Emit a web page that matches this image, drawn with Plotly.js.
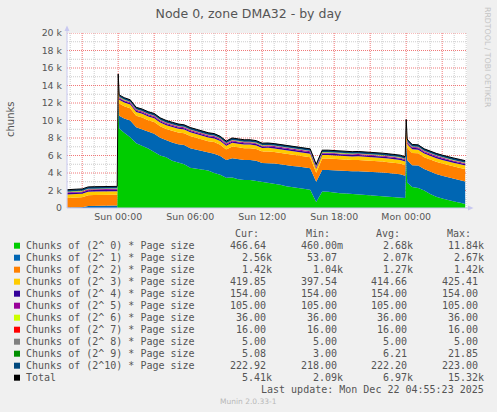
<!DOCTYPE html>
<html><head><meta charset="utf-8">
<script src="https://cdn.plot.ly/plotly-3.0.1.min.js"></script>
<style>html,body{margin:0;padding:0;background:#F0F0F0;overflow:hidden}</style>
</head><body><div id="chart" style="width:497px;height:412px"></div>
<script>
// ---------- DATA ----------
const times = [
'2025-12-20 19:45','2025-12-20 20:00','2025-12-20 20:30','2025-12-20 21:00','2025-12-20 21:30','2025-12-20 22:00','2025-12-20 22:30','2025-12-20 23:00','2025-12-20 23:30','2025-12-20 23:55',
'2025-12-21 00:00','2025-12-21 00:05','2025-12-21 00:30','2025-12-21 01:00','2025-12-21 01:30','2025-12-21 02:00','2025-12-21 02:30','2025-12-21 03:00','2025-12-21 03:30','2025-12-21 04:00',
'2025-12-21 04:30','2025-12-21 05:00','2025-12-21 05:30','2025-12-21 06:00','2025-12-21 06:30','2025-12-21 07:00','2025-12-21 07:30','2025-12-21 08:00','2025-12-21 08:30','2025-12-21 09:00',
'2025-12-21 09:30','2025-12-21 10:00','2025-12-21 10:30','2025-12-21 11:00','2025-12-21 11:30','2025-12-21 12:00','2025-12-21 12:30','2025-12-21 13:00','2025-12-21 13:30','2025-12-21 14:00',
'2025-12-21 14:30','2025-12-21 15:00','2025-12-21 15:30','2025-12-21 16:00','2025-12-21 16:30','2025-12-21 17:00','2025-12-21 17:30','2025-12-21 18:00','2025-12-21 18:30','2025-12-21 19:00',
'2025-12-21 19:30','2025-12-21 20:00','2025-12-21 20:30','2025-12-21 21:00','2025-12-21 21:30','2025-12-21 22:00','2025-12-21 22:30','2025-12-21 23:00','2025-12-21 23:30','2025-12-21 23:55',
'2025-12-22 00:00','2025-12-22 00:05','2025-12-22 00:10','2025-12-22 00:30','2025-12-22 01:00','2025-12-22 01:30','2025-12-22 02:00','2025-12-22 02:30','2025-12-22 03:00','2025-12-22 03:30',
'2025-12-22 04:00','2025-12-22 04:30','2025-12-22 04:55'];

const order0 = [0.46,0.5,0.6,0.8,1.2,1.5,2,2,2.5,3,
11840,9100,8600,8100,7400,7100,6800,6400,6000,5800,
5400,5200,5000,4600,4500,4400,4300,4000,3800,3450,
3500,3300,3200,3200,3100,3000,2900,2800,2650,2500,
2400,2300,2200,2100,700,1900,1850,1750,1700,1650,
1600,1600,1550,1500,1450,1400,1350,1300,1250,1150,
5500,2900,2800,2400,2300,2000,1600,1300,1100,900,
750,600,466.64];
const order1 = [53.07,60,58,75,240,250,245,260,255,270,
1075,1450,1640,1900,1840,1890,1940,2090,2040,1940,
2090,2100,2190,2240,2190,2100,2040,2200,2140,2040,
2190,2290,2290,2300,2300,2150,2250,2300,2350,2380,
2400,2450,2450,2450,2300,2450,2500,2550,2550,2550,
2600,2600,2620,2670,2650,2650,2640,2650,2600,2550,
2300,2600,2550,2500,2550,2450,2550,2600,2600,2580,
2580,2570,2560];
const order2 = [1100,1130,1150,1160,1220,1230,1240,1230,1250,1240,
1420,1400,1400,1400,1300,1350,1300,1350,1300,1300,
1350,1340,1350,1400,1350,1300,1300,1340,1300,1200,
1350,1350,1350,1340,1340,1300,1320,1300,1300,1280,
1250,1250,1220,1250,1040,1300,1300,1300,1300,1300,
1280,1300,1300,1280,1260,1260,1250,1250,1230,1200,
1350,1420,1400,1400,1400,1350,1350,1380,1380,1400,
1400,1410,1420];
const order3 = [397.54,400,402,405,410,410,412,412,414,414,
425,424,423,422,421,421,420,420,420,419,
419,418,418,418,417,417,417,416,416,416,
416,415,415,415,415,415,414,414,414,414,
414,414,414,414,410,414,414,414,414,414,
414,414,414,414,414,414,414,414,414,413,
418,420,420,420,420,420,420,420,420,420,
420,420,419.85];
const order4 = [154,154,154,154,154,154,154,154,154,154,
154,154,154,154,154,154,154,154,154,154,154,154,154,154,154,154,154,154,154,154,
154,154,154,154,154,154,154,154,154,154,154,154,154,154,154,154,154,154,154,154,
154,154,154,154,154,154,154,154,154,154,154,154,154,154,154,154,154,154,154,154,
154,154,154];
const order5 = [105,105,105,105,105,105,105,105,105,105,
105,105,105,105,105,105,105,105,105,105,105,105,105,105,105,105,105,105,105,105,
105,105,105,105,105,105,105,105,105,105,105,105,105,105,105,105,105,105,105,105,
105,105,105,105,105,105,105,105,105,105,105,105,105,105,105,105,105,105,105,105,
105,105,105];
const order6 = [36,36,36,36,36,36,36,36,36,36,
36,36,36,36,36,36,36,36,36,36,36,36,36,36,36,36,36,36,36,36,
36,36,36,36,36,36,36,36,36,36,36,36,36,36,36,36,36,36,36,36,
36,36,36,36,36,36,36,36,36,36,36,36,36,36,36,36,36,36,36,36,
36,36,36];
const order7 = [16,16,16,16,16,16,16,16,16,16,
16,16,16,16,16,16,16,16,16,16,16,16,16,16,16,16,16,16,16,16,
16,16,16,16,16,16,16,16,16,16,16,16,16,16,16,16,16,16,16,16,
16,16,16,16,16,16,16,16,16,16,16,16,16,16,16,16,16,16,16,16,
16,16,16];
const order8 = [5,5,5,5,5,5,5,5,5,5,
5,5,5,5,5,5,5,5,5,5,5,5,5,5,5,5,5,5,5,5,
5,5,5,5,5,5,5,5,5,5,5,5,5,5,5,5,5,5,5,5,
5,5,5,5,5,5,5,5,5,5,5,5,5,5,5,5,5,5,5,5,
5,5,5];
const order9 = [3,3,4,4,5,5,5,5,5,5,
21.85,12,8,7,7,6,6,6,6,6,6,6,6,6,6,6,6,6,6,6,
6,6,6,6,6,6,6,6,6,6,6,6,6,6,6,6,6,6,6,6,
6,6,6,6,6,6,6,6,6,6,10,8,7,6,6,6,5,5,5,5,
5,5,5.08];
const order10 = [218,219,220,221,222,222,222,222,222,222,
223,223,223,223,223,223,223,223,223,223,223,223,223,223,223,223,223,223,223,223,
223,223,223,223,223,223,223,222,222,222,222,222,222,222,222,222,222,222,223,223,
223,223,223,223,223,223,223,223,223,223,223,223,223,223,223,223,223,223,223,223,
223,223,222.92];

const legendLabels = ['Chunks of (2^ 0) * Page size','Chunks of (2^ 1) * Page size','Chunks of (2^ 2) * Page size',
'Chunks of (2^ 3) * Page size','Chunks of (2^ 4) * Page size','Chunks of (2^ 5) * Page size',
'Chunks of (2^ 6) * Page size','Chunks of (2^ 7) * Page size','Chunks of (2^ 8) * Page size',
'Chunks of (2^ 9) * Page size','Chunks of (2^10) * Page size','Total'];
const curVals = ['466.64','2.56k','1.42k','419.85','154.00','105.00','36.00','16.00','5.00','5.08','222.92','5.41k'];
const minVals = ['460.00m','53.07','1.04k','397.54','154.00','105.00','36.00','16.00','5.00','3.00','218.00','2.09k'];
const avgVals = ['2.68k','2.07k','1.27k','414.66','154.00','105.00','36.00','16.00','5.00','6.21','222.20','6.97k'];
const maxVals = ['11.84k','2.67k','1.42k','425.41','154.00','105.00','36.00','16.00','5.00','21.85','223.00','15.32k'];
const columnHeads = ['Cur:','Min:','Avg:','Max:'];

const xTickVals = ['2025-12-20 21:00','2025-12-21 00:00','2025-12-21 03:00','2025-12-21 06:00','2025-12-21 09:00',
'2025-12-21 12:00','2025-12-21 15:00','2025-12-21 18:00','2025-12-21 21:00','2025-12-22 00:00','2025-12-22 03:00'];
const xTickText = ['','Sun 00:00','','Sun 06:00','','Sun 12:00','','Sun 18:00','','Mon 00:00',''];
const xMinorVals = ['2025-12-20 20:00','2025-12-20 22:00','2025-12-20 23:00','2025-12-21 01:00','2025-12-21 02:00',
'2025-12-21 04:00','2025-12-21 05:00','2025-12-21 07:00','2025-12-21 08:00','2025-12-21 10:00','2025-12-21 11:00',
'2025-12-21 13:00','2025-12-21 14:00','2025-12-21 16:00','2025-12-21 17:00','2025-12-21 19:00','2025-12-21 20:00',
'2025-12-21 22:00','2025-12-21 23:00','2025-12-22 01:00','2025-12-22 02:00','2025-12-22 04:00','2025-12-22 05:00'];
const yTickVals = [0,2000,4000,6000,8000,10000,12000,14000,16000,18000,20000];
const yTickText = ['0','2 k','4 k','6 k','8 k','10 k','12 k','14 k','16 k','18 k','20 k'];
const yMinorVals = [1000,3000,5000,7000,9000,11000,13000,15000,17000,19000];

const titleText = 'Node 0, zone DMA32 - by day';
const yTitleText = 'chunks';
const lastUpdate = 'Last update: Mon Dec 22 04:55:23 2025';
const footer = 'Munin 2.0.33-1';
const sideText = 'RRDTOOL / TOBI OETIKER';

// ---------- STYLE ----------
const colors = ['#00CC00','#0066B3','#FF8000','#FFCC00','#330099','#990099','#CCFF00','#FF0000','#808080','#008F00','#00487D','#000000'];
const series = [order0,order1,order2,order3,order4,order5,order6,order7,order8,order9,order10];

const L=67, R=467, T=33, B=208;
const px = x => (x-L)/(R-L);
const py = y => (B-y)/(B-T);
const txtColor = '#555555';
const mono = 'DejaVu Sans Mono';
const sans = 'DejaVu Sans';

const traces = series.map((d,i)=>({
  type:'scatter', mode:'lines', x:times, y:d, stackgroup:'one',
  fillcolor:colors[i],
  line:{width: i===10 ? 1 : 0, color: i===10 ? '#000000' : colors[i]},
  hoverinfo:'skip', showlegend:false
}));

const ann = [];
const shapes = [];
function text(t, x, y, opts){
  ann.push(Object.assign({text:t, x:px(x), y:py(y), xref:'paper', yref:'paper',
    showarrow:false, borderpad:0, borderwidth:0, xanchor:'left', yanchor:'middle',
    font:{family:mono, size:10, color:txtColor}}, opts||{}));
}

// grid lines drawn under the data: gray dotted every hour / 1k, red dotted every 3 h / 2k
const minorGrid = '#CCCCCC';
const majorGrid = '#F07878';
function vline(v, c){ shapes.push({type:'line', layer:'below', xref:'x', yref:'paper', x0:v, x1:v, y0:0, y1:1, line:{color:c, width:1, dash:'1px,1px'}}); }
function hline(v, c){ shapes.push({type:'line', layer:'below', xref:'paper', yref:'y', x0:0, x1:1, y0:v, y1:v, line:{color:c, width:1, dash:'1px,1px'}}); }
xMinorVals.forEach(v=>vline(v, minorGrid));
yMinorVals.forEach(v=>hline(v, minorGrid));
xTickVals.forEach(v=>vline(v, majorGrid));
yTickVals.filter(v=>v>0).forEach(v=>hline(v, majorGrid));

text(yTitleText, 10, 119, {textangle:-90, xanchor:'center', font:{family:sans, size:10, color:txtColor}});
text(sideText, 488, 57, {textangle:90, xanchor:'center', font:{family:sans, size:7.8, color:'#C4C4C4'}});

const CH = 6.02;
const colEnds = [271.6, 342.6, 412.9, 483.6];
const headX = [235.2, 306.2, 376.2, 447.2];
columnHeads.forEach((h,j)=>text(h, headX[j], 233.7));
const cols = [curVals, minVals, avgVals, maxVals];
legendLabels.forEach((lab,i)=>{
  const yc = 245.7 + 12*i;
  shapes.push({type:'rect', xref:'paper', yref:'paper', x0:px(14), x1:px(20), y0:py(yc+3), y1:py(yc-3),
    fillcolor:colors[i], line:{width:0}});
  text(lab, 26.3, yc);
  cols.forEach((arr,j)=>{
    const s = arr[i];
    const end = /[km]$/.test(s) ? colEnds[j] : colEnds[j]-CH;
    text(s, end, yc, {xanchor:'right'});
  });
});
text(lastUpdate, colEnds[3], 389.7, {xanchor:'right'});
text(footer, 248.5, 401.7, {xanchor:'center', font:{family:sans, size:7.5, color:'#B8B8B8'}});

const axisCol = '#C8C8F0';
shapes.push({type:'line', xref:'paper', yref:'paper', x0:px(67), x1:px(67), y0:py(208), y1:py(28), line:{color:axisCol, width:1}});
shapes.push({type:'line', xref:'paper', yref:'paper', x0:px(67), x1:px(470), y0:py(208), y1:py(208), line:{color:axisCol, width:1}});
shapes.push({type:'path', xref:'paper', yref:'paper', path:`M${px(64.5)},${py(31)} L${px(69.5)},${py(31)} L${px(67)},${py(25.5)} Z`, fillcolor:axisCol, line:{width:0}});
shapes.push({type:'path', xref:'paper', yref:'paper', path:`M${px(468)},${py(205.5)} L${px(468)},${py(210.5)} L${px(473.5)},${py(208)} Z`, fillcolor:axisCol, line:{width:0}});

const layout = {
  width:497, height:412,
  margin:{l:L, r:497-R, t:T, b:412-B, pad:0},
  paper_bgcolor:'#F0F0F0', plot_bgcolor:'#FFFFFF',
  title:{text:titleText, x:0.5, xref:'container', xanchor:'center', y:1-14/412, yref:'container', yanchor:'middle',
    font:{family:sans, size:12.5, color:txtColor}},
  xaxis:{type:'date', range:['2025-12-20 19:44','2025-12-22 05:04'], tickmode:'array', tickvals:xTickVals, ticktext:xTickText,
    showgrid:false, zeroline:false, showline:false, ticks:'', ticklabelstandoff:2,
    tickfont:{family:sans, size:9.4, color:txtColor}, automargin:false, fixedrange:true},
  yaxis:{range:[0,20000], tickmode:'array', tickvals:yTickVals, ticktext:yTickText,
    showgrid:false, zeroline:false, showline:false, ticks:'', ticklabelstandoff:4,
    tickfont:{family:sans, size:9.4, color:txtColor}, automargin:false, fixedrange:true},
  annotations:ann, shapes:shapes, showlegend:false
};

Plotly.newPlot('chart', traces, layout, {staticPlot:true, displayModeBar:false});
</script></body></html>
